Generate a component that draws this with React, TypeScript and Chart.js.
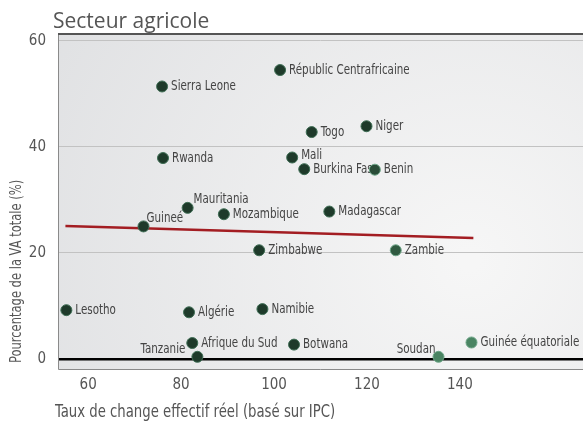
import React, { useEffect, useRef } from "react";
import { Chart, registerables } from "chart.js";

Chart.register(...registerables);

const countries = [
  "Républic Centrafricaine", "Sierra Leone", "Togo", "Niger", "Rwanda", "Mali",
  "Burkina Faso", "Benin", "Mauritania", "Mozambique", "Madagascar", "Guineé",
  "Zimbabwe", "Zambie", "Lesotho", "Algérie", "Namibie", "Afrique du Sud",
  "Tanzanie", "Botwana", "Soudan", "Guinée équatoriale",
];
const exchangeRate = [
  101.3, 75.9, 108.1, 119.9, 76.1, 103.9,
  106.5, 121.7, 81.4, 89.2, 111.9, 71.9,
  96.8, 126.2, 55.3, 81.7, 97.5, 82.4,
  83.5, 104.3, 135.4, 142.5,
];
const agriShare = [
  54.5, 51.4, 42.8, 43.9, 37.9, 38.0,
  35.8, 35.7, 28.5, 27.3, 27.8, 25.0,
  20.5, 20.5, 9.2, 8.8, 9.4, 3.0,
  0.4, 2.7, 0.4, 3.1,
];
const trendX = [55.1, 142.9];
const trendY = [25.1, 22.8];
const xTicks = [60, 80, 100, 120, 140];
const yTicks = [0, 20, 40, 60];

const titleText = "Secteur agricole";
const xTitle = "Taux de change effectif réel (basé sur IPC)";
const yTitle = "Pourcentage de la VA totale (%)";

// styling (kept separate from data)
const FONT = "'DejaVu Sans Condensed', 'Liberation Sans Narrow', sans-serif";
const pointFill = (name: string) =>
  name === "Soudan" || name === "Guinée équatoriale" ? "#4a8462" :
  name === "Zambie" ? "#2f5a40" : name === "Benin" ? "#2a4d38" : "#1e3a2a";
const labelOffset: Record<string, [number, number, CanvasTextAlign]> = {
  "Mauritania": [6, -9, "left"],
  "Guineé": [3, -8, "left"],
  "Mali": [9, -2, "left"],
  "Tanzanie": [-12, -7, "right"],
  "Soudan": [-3, -7, "right"],
};

function narrowText(ctx: CanvasRenderingContext2D, text: string, x: number, y: number, sx: number, align: CanvasTextAlign) {
  ctx.save();
  ctx.translate(x, y);
  ctx.scale(sx, 1);
  ctx.textAlign = align;
  ctx.fillText(text, 0, 0);
  ctx.restore();
}

export default function App() {
  const ref = useRef<HTMLCanvasElement>(null);
  useEffect(() => {
    const canvas = ref.current!;
    const bgPlugin = {
      id: "bg",
      beforeDraw(chart: any) {
        const { ctx, chartArea: a } = chart;
        ctx.save();
        const g = ctx.createRadialGradient(470, 260, 10, 470, 260, 480);
        g.addColorStop(0, "#f6f6f6");
        g.addColorStop(1, "#e0e1e3");
        ctx.fillStyle = g;
        ctx.fillRect(a.left, a.top, a.right - a.left, a.bottom - a.top);
        ctx.restore();
      },
      beforeDatasetsDraw(chart: any) {
        const { ctx, chartArea: a } = chart;
        ctx.save();
        ctx.strokeStyle = "#8a8a8a";
        ctx.lineWidth = 1;
        ctx.beginPath();
        ctx.moveTo(a.left + 0.5, a.top);
        ctx.lineTo(a.left + 0.5, a.bottom + 0.5);
        ctx.lineTo(a.right, a.bottom + 0.5);
        ctx.stroke();
        ctx.strokeStyle = "#555";
        ctx.lineWidth = 2;
        ctx.beginPath();
        ctx.moveTo(a.left, a.top);
        ctx.lineTo(a.right, a.top);
        ctx.stroke();
        const xs = chart.scales.x, ys = chart.scales.y;
        ctx.font = `14px ${FONT}`;
        ctx.fillStyle = "#444";
        ctx.textBaseline = "middle";
        countries.forEach((c, i) => {
          const px = xs.getPixelForValue(exchangeRate[i]);
          const py = ys.getPixelForValue(agriShare[i]);
          const [dx, dy, al] = labelOffset[c] || [9, 0, "left"];
          narrowText(ctx, c, px + dx, py + dy, 0.82, al);
        });
        ctx.restore();
      },
      afterDraw(chart: any) {
        const { ctx } = chart;
        ctx.save();
        ctx.fillStyle = "#555";
        ctx.textBaseline = "alphabetic";
        ctx.font = `21px 'Open Sans', sans-serif`;
        narrowText(ctx, titleText, 53, 28, 1, "left");
        ctx.font = `17px ${FONT}`;
        narrowText(ctx, xTitle, 55, 417, 0.867, "left");
        ctx.font = `16px ${FONT}`;
        ctx.translate(21, 363);
        ctx.rotate(-Math.PI / 2);
        narrowText(ctx, yTitle, 0, 0, 0.8, "left");
        ctx.restore();
      },
    };

    const chart = new Chart(canvas, {
      type: "scatter",
      data: {
        datasets: [
          {
            label: "pays",
            data: exchangeRate.map((x, i) => ({ x, y: agriShare[i] })),
            backgroundColor: countries.map(pointFill),
            borderColor: countries.map((c) => (pointFill(c) === "#1e3a2a" ? "#3f6e55" : "#6ea688")),
            borderWidth: 1,
            pointRadius: 5.5,
            pointHoverRadius: 5.5,
          },
          {
            type: "line",
            label: "tendance",
            data: trendX.map((x, i) => ({ x, y: trendY[i] })),
            borderColor: "#a31d22",
            borderWidth: 2.5,
            pointRadius: 0,
            showLine: true,
            fill: false,
          } as any,
        ],
      },
      options: {
        animation: false,
        responsive: false,
        maintainAspectRatio: false,
        layout: { autoPadding: false, padding: { top: 34, left: 0, right: 0, bottom: 0 } },
        plugins: { legend: { display: false }, tooltip: { enabled: false }, title: { display: false } },
        scales: {
          x: {
            type: "linear",
            min: 53.5,
            max: 166.5,
            afterBuildTicks: (s: any) => { s.ticks = xTicks.map((v) => ({ value: v })); },
            afterFit: (s: any) => { s.height = 57; s.paddingLeft = 0; s.paddingRight = 0; },
            grid: { display: false, drawTicks: false },
            border: { display: false },
            ticks: { color: "#555", font: { family: FONT, size: 15 }, padding: 7, maxRotation: 0 },
          },
          y: {
            type: "linear",
            min: -1.9,
            max: 61.3,
            afterBuildTicks: (s: any) => { s.ticks = yTicks.map((v) => ({ value: v })); },
            afterFit: (s: any) => { s.width = 58; s.paddingTop = 0; s.paddingBottom = 0; },
            grid: {
              drawTicks: false,
              color: (c: any) => (c.tick && c.tick.value === 0 ? "#000" : "#c2c2c2"),
              lineWidth: (c: any) => (c.tick && c.tick.value === 0 ? 2.5 : 1),
            },
            border: { display: false },
            ticks: { color: "#555", font: { family: FONT, size: 15 }, padding: 12 },
          },
        },
      },
      plugins: [bgPlugin],
    });
    return () => chart.destroy();
  }, []);
  return (
    <canvas
      ref={ref}
      width={583}
      height={426}
      style={{ position: "fixed", left: 0, top: 0, width: 583, height: 426, background: "#fff" }}
    />
  );
}
